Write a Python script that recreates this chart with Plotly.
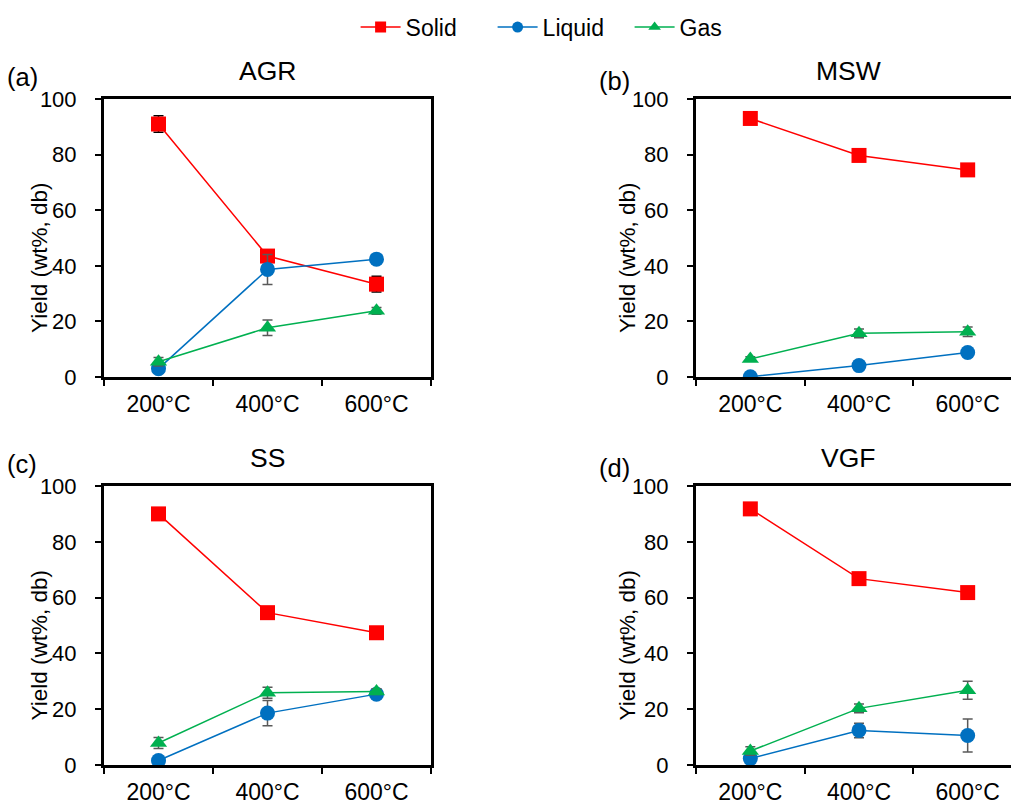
import plotly.graph_objects as go

temps = ["200°C", "400°C", "600°C"]
panels = ["AGR", "MSW", "SS", "VGF"]
letters = ["(a)", "(b)", "(c)", "(d)"]

# yields (wt%, db) and standard deviations per feedstock
solid = {"AGR": [91.0, 43.5, 33.4], "MSW": [93.0, 79.7, 74.5],
         "SS": [90.0, 54.6, 47.4], "VGF": [91.8, 66.8, 61.8]}
solid_err = {"AGR": [3.0, 0.8, 2.8], "MSW": [0.5, 0.5, 0.5],
             "SS": [0.5, 0.5, 0.5], "VGF": [0.5, 0.5, 0.5]}
liquid = {"AGR": [3.0, 38.7, 42.4], "MSW": [0.1, 4.1, 8.8],
          "SS": [1.6, 18.6, 25.4], "VGF": [2.3, 12.4, 10.6]}
liquid_err = {"AGR": [0.5, 5.4, 0.5], "MSW": [0.2, 0.5, 0.5],
              "SS": [0.5, 4.5, 1.0], "VGF": [0.8, 2.6, 5.9]}
gas = {"AGR": [5.5, 17.7, 23.8], "MSW": [6.5, 15.7, 16.3],
       "SS": [7.9, 25.9, 26.3], "VGF": [5.0, 20.3, 26.8]}
gas_err = {"AGR": [1.5, 2.8, 1.2], "MSW": [0.8, 1.6, 1.7],
           "SS": [2.0, 2.0, 1.0], "VGF": [1.5, 1.6, 3.2]}

series = [
    ("Solid", solid, solid_err, "#FF0000", "square", "#000000"),
    ("Liquid", liquid, liquid_err, "#0070C0", "circle", "#595959"),
    ("Gas", gas, gas_err, "#00B050", "triangle-up", "#595959"),
]

W, H = 1011, 805
FONT = "Liberation Sans, Arial, sans-serif"
TICK_SIZE = 22
XTICK_SIZE = 23
TITLE_SIZE = 26.5

# pixel layout of the four plot areas (left, right, top, bottom)
boxes = [(104, 431, 99, 377), (696, 1022, 99, 377),
         (104, 431, 486, 765), (696, 1022, 486, 765)]

fig = go.Figure()

for i, name in enumerate(panels):
    ax = "" if i == 0 else str(i + 1)
    for sname, vals, errs, color, sym, ecol in series:
        fig.add_trace(go.Scatter(
            x=temps, y=vals[name], mode="lines+markers", name=sname,
            showlegend=False,
            line=dict(color=color, width=1.5),
            marker=dict(symbol=sym, size=15, color=color),
            error_y=dict(type="data", array=errs[name], color=ecol,
                         thickness=1.5, width=5),
            xaxis="x" + ax, yaxis="y" + ax,
        ))

# legend entries
for sname, vals, errs, color, sym, ecol in series:
    fig.add_trace(go.Scatter(
        x=[None], y=[None], mode="lines+markers", name=sname,
        line=dict(color=color, width=1.5),
        marker=dict(symbol=sym, size=11, color=color),
    ))


def label(text, px, py, size, angle=0):
    return dict(text=text, x=px / W, y=1 - py / H, xref="paper", yref="paper",
                xanchor="center", yanchor="middle", showarrow=False,
                textangle=angle,
                font=dict(size=size, color="black", family=FONT))


annotations = []
for i, (l, r, t, b) in enumerate(boxes):
    ax = "" if i == 0 else str(i + 1)
    r_eff = min(r, W)
    span = (r - l) / 3.0
    xmax = -0.5 + (r_eff - l) / span
    clipped = r > W
    fig.update_layout(**{
        "xaxis" + ax: dict(
            domain=[l / W, r_eff / W], anchor="y" + ax, type="category",
            range=[-0.5, xmax], showline=True, linecolor="black", linewidth=3,
            mirror=True, ticks="outside", tickson="boundaries", ticklen=6,
            tickwidth=1.5, tickcolor="black", showgrid=False, zeroline=False,
            ticklabelstandoff=4, automargin=False,
            tickfont=dict(size=XTICK_SIZE, color="black", family=FONT),
        ),
        "yaxis" + ax: dict(
            domain=[1 - b / H, 1 - t / H], anchor="x" + ax,
            range=[0, 100], dtick=20, showline=True, linecolor="black",
            linewidth=3, mirror=(not clipped), ticks="outside", ticklen=6,
            tickwidth=1.5, tickcolor="black", showgrid=False, zeroline=False,
            ticklabelstandoff=14, automargin=False,
            tickfont=dict(size=TICK_SIZE, color="black", family=FONT),
        ),
    })
    right_col = l > 500
    title_x = 848 if clipped else (l + r) / 2
    annotations.append(label(panels[i], title_x, t - 28, TITLE_SIZE))
    annotations.append(label(letters[i], 22 + (592 if right_col else 0),
                             t - 22 + (4 if right_col else 0), TITLE_SIZE - 1))
    annotations.append(label("Yield (wt%, db)", 39 + (588 if right_col else 0),
                             (t + b) / 2 + 20, 22.5, angle=-90))

fig.update_layout(
    width=W, height=H,
    margin=dict(l=0, r=0, t=0, b=0, autoexpand=False),
    paper_bgcolor="white", plot_bgcolor="white",
    font=dict(family=FONT, size=TICK_SIZE, color="black"),
    annotations=annotations,
    legend=dict(orientation="h", x=0.555, xanchor="center", y=0.993,
                yanchor="top", itemwidth=40, entrywidth=82,
                entrywidthmode="pixels",
                font=dict(size=23, color="black", family=FONT)),
)

fig.write_html("out.html")
